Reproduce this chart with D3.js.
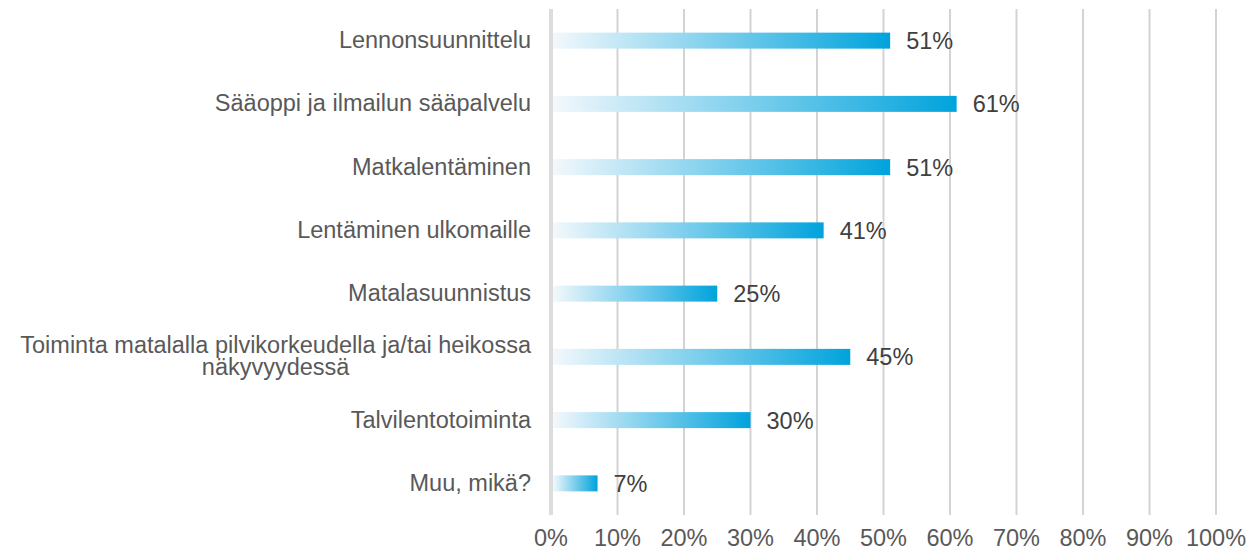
<!DOCTYPE html>
<html>
<head>
<meta charset="utf-8">
<script src="https://cdn.jsdelivr.net/npm/d3@7"></script>
<style>
  body { margin: 0; background: #fff; }
  text { font-family: "Liberation Sans", Arial, Helvetica, sans-serif; }
</style>
</head>
<body>
<div id="chart"></div>
<script>
// data
let categories = [
    ["Lennonsuunnittelu"],
    ["Sääoppi ja ilmailun sääpalvelu"],
    ["Matkalentäminen"],
    ["Lentäminen ulkomaille"],
    ["Matalasuunnistus"],
    ["Toiminta matalalla pilvikorkeudella ja/tai heikossa", "näkyvyydessä"],
    ["Talvilentotoiminta"],
    ["Muu, mikä?"]
];
let values = [51, 61, 51, 41, 25, 45, 30, 7];
let tickValues = [0, 10, 20, 30, 40, 50, 60, 70, 80, 90, 100];

let width = 1258, height = 551;
let margin = {top: 9, left: 551, right: 42, bottom: 36};

let svg = d3.select("#chart").append("svg")
    .attr("width", width)
    .attr("height", height);

let defs = svg.append("defs");
let grad = defs.append("linearGradient")
    .attr("id", "barGrad")
    .attr("x1", "0%").attr("x2", "100%")
    .attr("y1", "0%").attr("y2", "0%");
grad.append("stop").attr("offset", "0%").attr("stop-color", "#f3f8fc");
grad.append("stop").attr("offset", "100%").attr("stop-color", "#00a3dc");

let xScale = d3.scaleLinear().domain([0, 100]).range([margin.left, width - margin.right]);
let yScale = d3.scaleBand()
    .domain(d3.range(categories.length))
    .range([margin.top, height - margin.bottom])
    .paddingInner(0.747)
    .paddingOuter(0.3735);

// gridlines
let grid = svg.append("g");
grid.selectAll("line")
    .data(tickValues)
    .enter().append("line")
    .attr("x1", d => xScale(d))
    .attr("x2", d => xScale(d))
    .attr("y1", margin.top)
    .attr("y2", height - margin.bottom)
    .style("stroke", d => d === 0 ? "#dcdcdc" : "#d3d3d3")
    .style("stroke-width", d => d === 0 ? 4 : 2);

// tick labels
svg.append("g").selectAll("text")
    .data(tickValues)
    .enter().append("text")
    .attr("x", d => xScale(d))
    .attr("y", 546)
    .attr("text-anchor", "middle")
    .style("font-size", "23.5px")
    .style("fill", "#595959")
    .text(d => d + "%");

// bars
svg.append("g").selectAll("rect")
    .data(values)
    .enter().append("rect")
    .attr("x", xScale(0) + 2)
    .attr("y", (d, i) => yScale(i))
    .attr("width", d => xScale(d) - xScale(0) - 2)
    .attr("height", yScale.bandwidth())
    .style("fill", "url(#barGrad)");

// value labels
svg.append("g").selectAll("text")
    .data(values)
    .enter().append("text")
    .attr("x", d => xScale(d) + 16)
    .attr("y", (d, i) => yScale(i) + yScale.bandwidth() / 2)
    .attr("dy", "0.36em")
    .style("font-size", "23.5px")
    .style("fill", "#404040")
    .text(d => d + "%");

// category labels
let labelRight = 531;
let lineGap = 22;
let labels = svg.append("g");
categories.forEach((lines, i) => {
    let cy = yScale(i) + yScale.bandwidth() / 2 - 1;
    let top = cy - (lines.length - 1) * lineGap / 2;
    let t = labels.append("text")
        .attr("x", labelRight)
        .attr("y", top)
        .attr("dy", "0.36em")
        .attr("text-anchor", "end")
        .style("font-size", "23.5px")
        .style("fill", "#595959")
        .text(lines[0]);
    if (lines.length > 1) {
        let w = t.node().getComputedTextLength();
        let mid = labelRight - w / 2;
        for (let k = 1; k < lines.length; k++) {
            labels.append("text")
                .attr("x", mid)
                .attr("y", top + k * lineGap)
                .attr("dy", "0.36em")
                .attr("text-anchor", "middle")
                .style("font-size", "23.5px")
                .style("fill", "#595959")
                .text(lines[k]);
        }
    }
});
</script>
</body>
</html>
